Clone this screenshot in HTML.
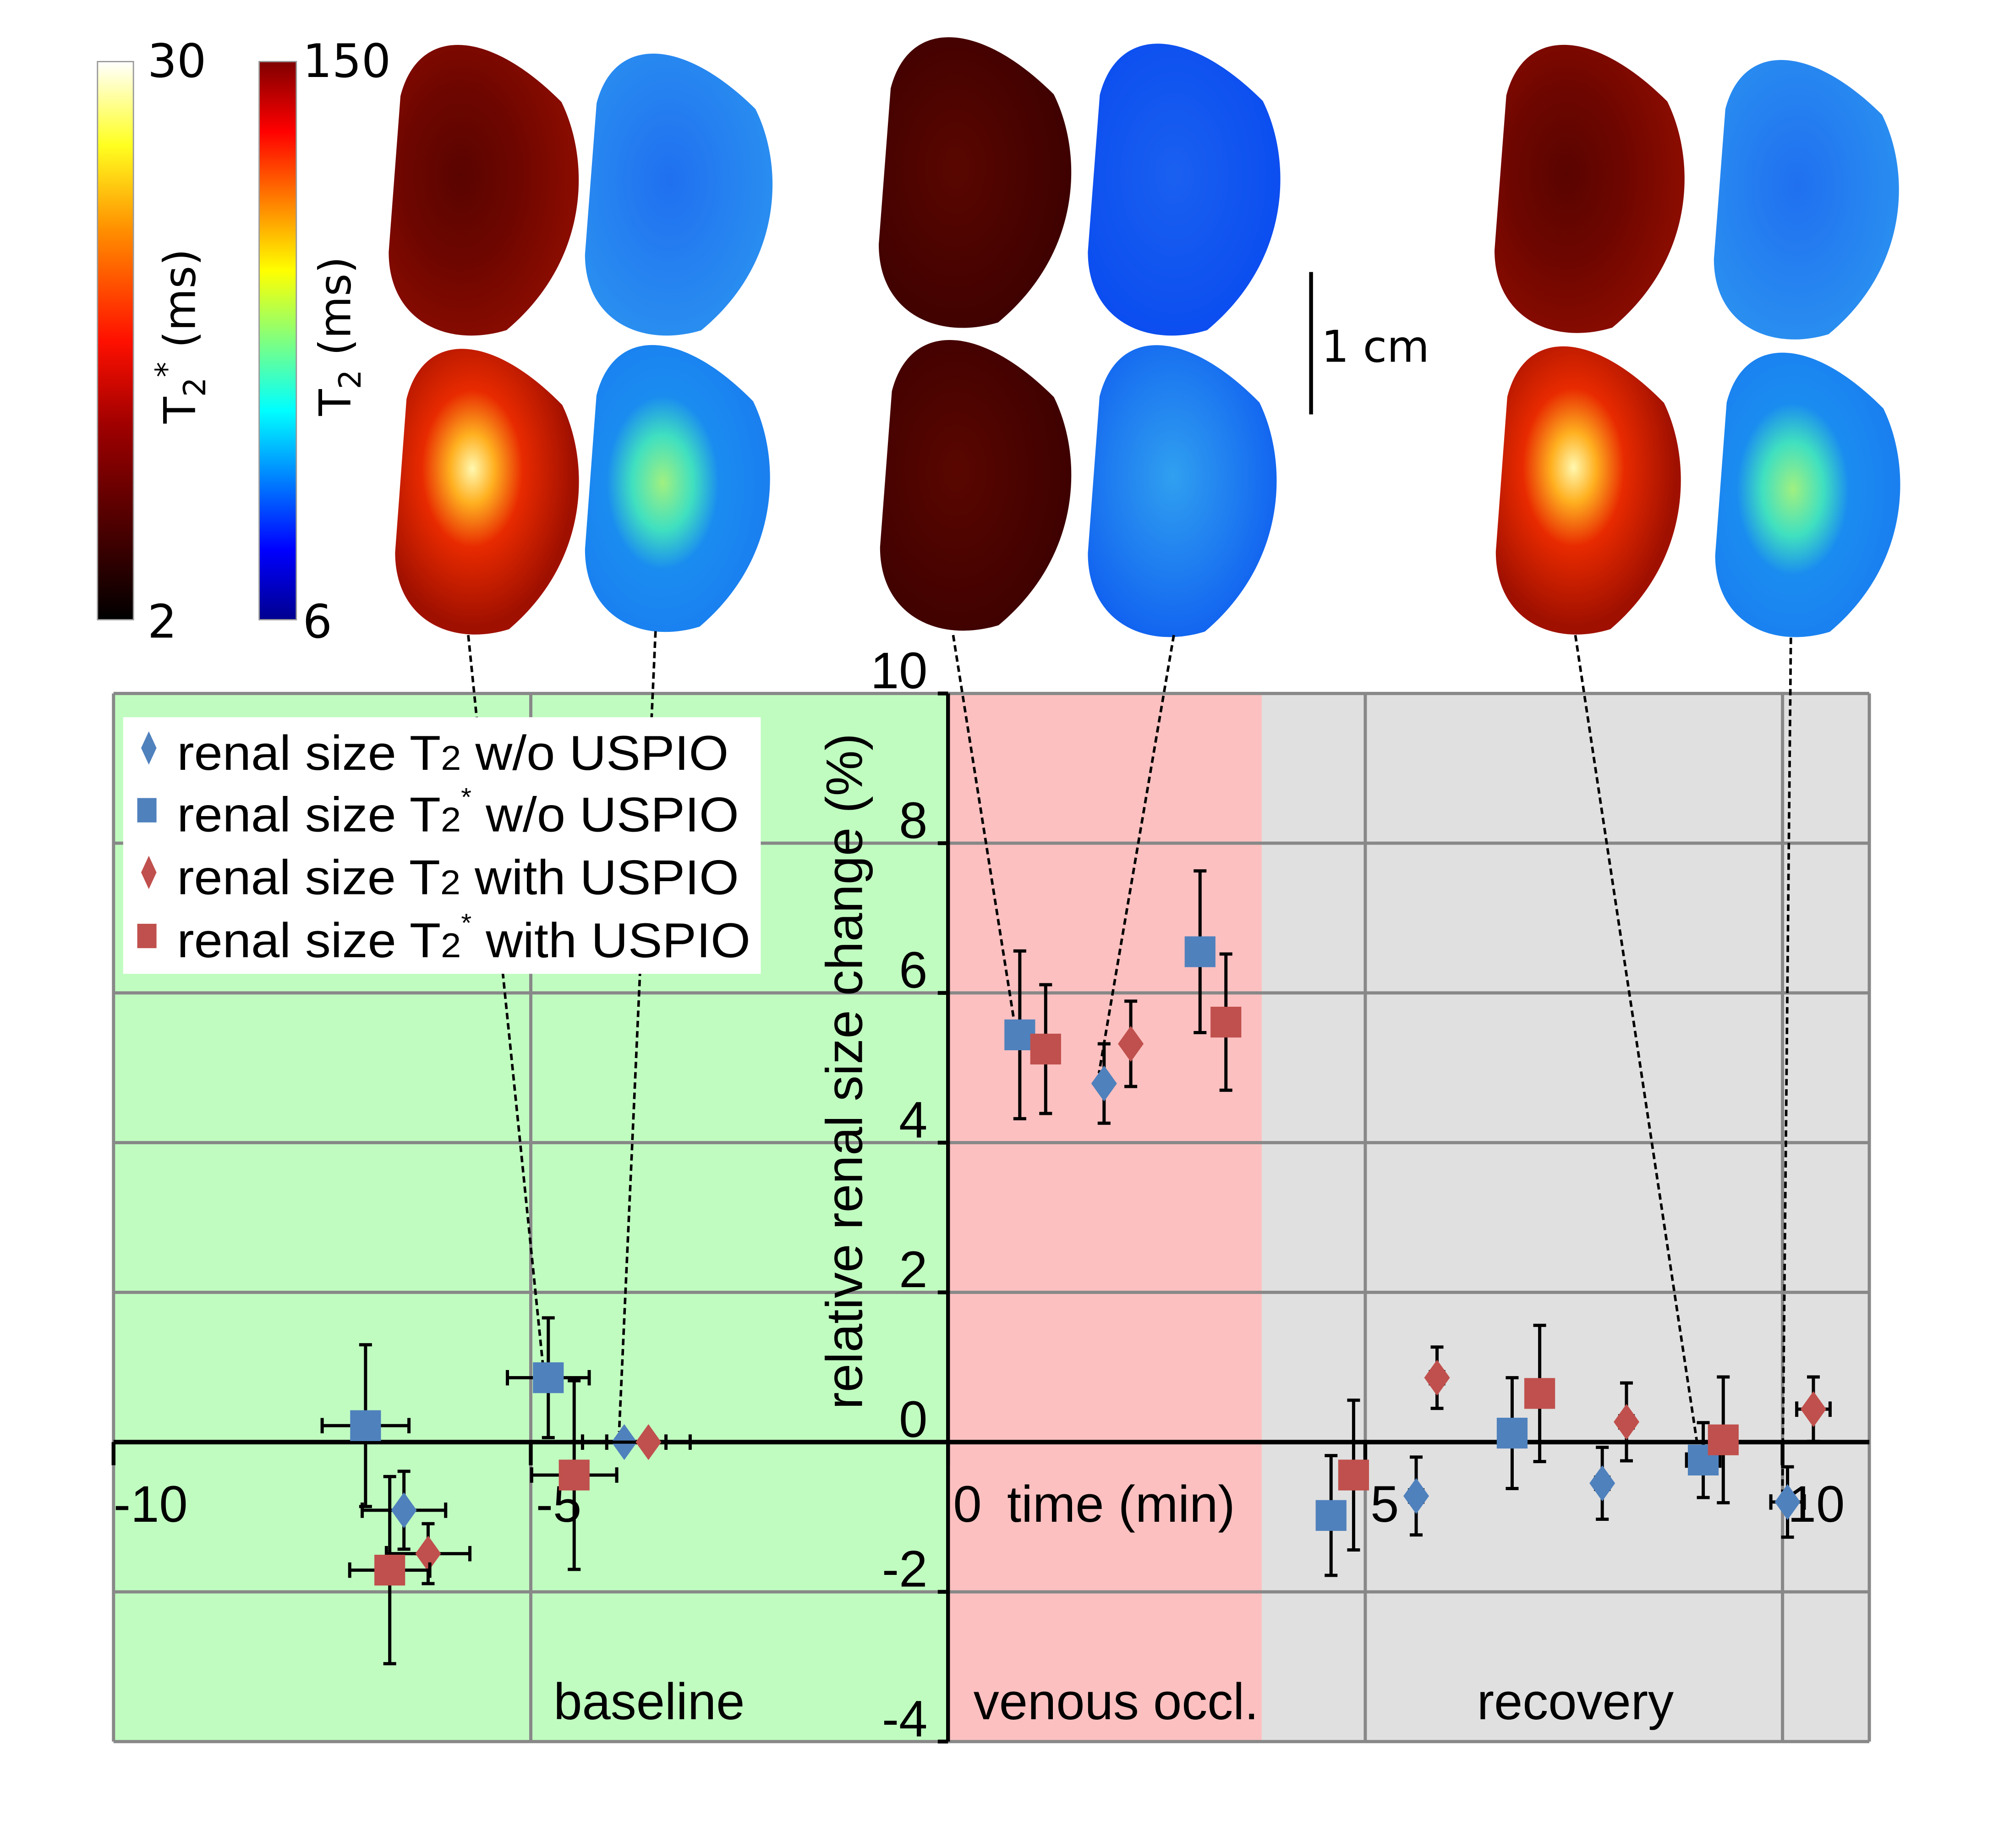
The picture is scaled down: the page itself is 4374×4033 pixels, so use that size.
<!DOCTYPE html>
<html><head><meta charset="utf-8"><style>
html,body{margin:0;padding:0;background:#fff;}
svg{display:block;}
text{font-family:"Liberation Sans",Arial,sans-serif;}
.dj{font-family:"DejaVu Sans","Liberation Sans",sans-serif;}
</style></head><body>
<svg id="fig" xmlns="http://www.w3.org/2000/svg" width="4374" height="4033" viewBox="0 0 1562.14 1440.36" preserveAspectRatio="none">
<defs>
<linearGradient id="hot" x1="0" y1="1" x2="0" y2="0">
<stop offset="0" stop-color="#000"/><stop offset="0.35" stop-color="#a00000"/><stop offset="0.5" stop-color="#ff1000"/><stop offset="0.7" stop-color="#ff9000"/><stop offset="0.85" stop-color="#ffff20"/><stop offset="1" stop-color="#ffffff"/></linearGradient>
<linearGradient id="jet" x1="0" y1="1" x2="0" y2="0">
<stop offset="0" stop-color="#00008f"/><stop offset="0.125" stop-color="#0000ff"/><stop offset="0.375" stop-color="#00ffff"/><stop offset="0.625" stop-color="#ffff00"/><stop offset="0.875" stop-color="#ff0000"/><stop offset="1" stop-color="#800000"/></linearGradient>
<radialGradient id="rDark" cx="0.38" cy="0.45" r="0.6"><stop offset="0" stop-color="#5a0400"/><stop offset="0.5" stop-color="#6e0600"/><stop offset="1" stop-color="#8a0c00"/></radialGradient>
<radialGradient id="rVen" cx="0.4" cy="0.45" r="0.6"><stop offset="0" stop-color="#5a0600"/><stop offset="1" stop-color="#3e0100"/></radialGradient>
<radialGradient id="rBright" cx="0.42" cy="0.42" r="0.55"><stop offset="0" stop-color="#fff8b0"/><stop offset="0.22" stop-color="#ffb020"/><stop offset="0.5" stop-color="#e82a00"/><stop offset="1" stop-color="#a01000"/></radialGradient>
<radialGradient id="bTop" cx="0.45" cy="0.45" r="0.6"><stop offset="0" stop-color="#2070f0"/><stop offset="1" stop-color="#2a90f0"/></radialGradient>
<radialGradient id="bVen" cx="0.45" cy="0.45" r="0.6"><stop offset="0" stop-color="#1a60f0"/><stop offset="1" stop-color="#0a4cf0"/></radialGradient>
<radialGradient id="bBright" cx="0.42" cy="0.48" r="0.55"><stop offset="0" stop-color="#a0f080"/><stop offset="0.3" stop-color="#40e0c0"/><stop offset="0.55" stop-color="#1a8cf0"/><stop offset="1" stop-color="#1a80f0"/></radialGradient>
<radialGradient id="bVen2" cx="0.45" cy="0.45" r="0.6"><stop offset="0" stop-color="#30a0f0"/><stop offset="1" stop-color="#1060f0"/></radialGradient>
</defs>
<g id="images"></g>
<g id="bars">
<rect x="76" y="48" width="28" height="435" fill="url(#hot)" stroke="#999" stroke-width="1"/>
<rect x="202" y="48" width="29" height="435" fill="url(#jet)" stroke="#999" stroke-width="1"/>
<text class="dj" x="115" y="60" font-size="36">30</text>
<text class="dj" x="115" y="497" font-size="36">2</text>
<text class="dj" x="236" y="60" font-size="36">150</text>
<text class="dj" x="236" y="497" font-size="36">6</text>
<text class="dj" transform="translate(152,262) rotate(-90)" text-anchor="middle" font-size="34">T<tspan font-size="24" dy="8">2</tspan><tspan font-size="24" dy="-22">*</tspan><tspan dy="14"> (ms)</tspan></text>
<text class="dj" transform="translate(273,262) rotate(-90)" text-anchor="middle" font-size="34">T<tspan font-size="24" dy="8">2</tspan><tspan dy="-8"> (ms)</tspan></text>
<line x1="1022" y1="212" x2="1022" y2="323" stroke="#000" stroke-width="3"/>
<text class="dj" x="1030" y="282" font-size="34">1 cm</text>
</g>
<g id="plot"></g>
</svg>
<script>
// data
const seriesNames = ["renal size T2 w/o USPIO","renal size T2* w/o USPIO","renal size T2 with USPIO","renal size T2* with USPIO"];
const t2WoX   = [-6.52,-3.88,1.87,5.61,7.84,10.06];
const t2WoY   = [-0.91,0.0,4.79,-0.72,-0.55,-0.80];
const t2WoYE  = [0.52,0.0,0.53,0.52,0.48,0.47];
const t2WoXE  = [0.50,0.50,0.0,0.08,0.08,0.20];
const t2sWoX  = [-6.98,-4.79,0.86,3.02,4.59,6.76,9.05];
const t2sWoY  = [0.22,0.86,5.44,6.55,-0.98,0.12,-0.24];
const t2sWoYE = [1.08,0.80,1.12,1.08,0.80,0.74,0.50];
const t2sWoXE = [0.52,0.49,0.0,0.0,0.0,0.0,0.20];
const t2WX    = [-6.23,-3.59,2.19,5.86,8.13,10.37];
const t2WY    = [-1.49,0.0,5.32,0.86,0.27,0.44];
const t2WYE   = [0.40,0.0,0.57,0.41,0.52,0.43];
const t2WXE   = [0.50,0.50,0.0,0.08,0.08,0.20];
const t2sWX   = [-6.69,-4.48,1.17,3.33,4.86,7.09,9.29];
const t2sWY   = [-1.71,-0.44,5.25,5.61,-0.44,0.65,0.03];
const t2sWYE  = [1.25,1.26,0.86,0.91,1.00,0.91,0.84];
const t2sWXE  = [0.48,0.51,0.0,0.0,0.0,0.0,0.15];
const yTicks = [-4,-2,0,2,4,6,8,10];
const xTickVals = [-10,-5,0,5,10];
const xTickLabels = ["-10","-5","0","5","10"];
const regionBounds = [-10,0,3.76,11.04];
const regionLabels = ["baseline","venous occl.","recovery"];

const NS="http://www.w3.org/2000/svg";
const X0=739, XS=65.05, Y0=1124, YS=58.35;
function sx(v){return X0+v*XS;}
function sy(v){return Y0-v*YS;}
function mk(tag,attrs,parent){const e=document.createElementNS(NS,tag);for(const k in attrs)e.setAttribute(k,attrs[k]);parent.appendChild(e);return e;}
const plot=document.getElementById('plot');
const imgs=document.getElementById('images');

// kidneys
const kidneys=[
 [303,28,456,262,'url(#rDark)'],[456,35,607,262,'url(#bTop)'],
 [685,22,840,256,'url(#rVen)'],[848,27,1003,262,'url(#bVen)'],
 [1165,28,1318,260,'url(#rDark)'],[1336,40,1485,265,'url(#bTop)'],
 [308,265,456,495,'url(#rBright)'],[456,262,605,493,'url(#bBright)'],
 [686,258,840,492,'url(#rVen)'],[848,262,1000,497,'url(#bVen2)'],
 [1166,263,1315,495,'url(#rBright)'],[1337,268,1486,497,'url(#bBright)']];
kidneys.forEach(k=>{
 const [a,b,c,d,f]=k,w=c-a,h=d-b;
 const p=`M${a+0.06*w},${b+0.2*h} C${a+0.15*w},${b-0.03*h} ${a+0.5*w},${b-0.03*h} ${c-0.12*w},${b+0.22*h} C${c+0.03*w},${b+0.42*h} ${c+0.02*w},${b+0.75*h} ${a+0.6*w},${d-0.02*h} C${a+0.3*w},${d+0.04*h} ${a},${d-0.05*h} ${a},${b+0.72*h} Z`;
 const e=mk('path',{d:p,fill:f},imgs);
 
 
});

// backgrounds
const regColors=["#c0fcc0","#fcc0c0","#e0e0e0"];
for(let i=0;i<3;i++){
 const r=mk('rect',{x:sx(regionBounds[i]),y:sy(10),width:sx(regionBounds[i+1])-sx(regionBounds[i]),height:sy(-4)-sy(10),fill:regColors[i]},plot);
 
 
}
// grid
yTicks.forEach(v=>{
 const l=mk('line',{x1:sx(-10),x2:sx(11.04),y1:sy(v),y2:sy(v),stroke:'#888',"stroke-width":2.5},plot);
 
 
});
[-10,-5,5,10,11.04].forEach(v=>{
 const l=mk('line',{x1:sx(v),x2:sx(v),y1:sy(10),y2:sy(-4),stroke:'#888',"stroke-width":2.5},plot);
 
 
});
// axes
let ax=mk('line',{x1:sx(-10),x2:sx(11.04),y1:sy(0),y2:sy(0),stroke:'#000',"stroke-width":3.5},plot);


ax=mk('line',{x1:sx(0),x2:sx(0),y1:sy(10),y2:sy(-4),stroke:'#000',"stroke-width":3},plot);


yTicks.forEach(v=>{
 mk('line',{x1:sx(0)-8,x2:sx(0),y1:sy(v),y2:sy(v),stroke:'#000',"stroke-width":3},plot);
 const t=mk('text',{x:sx(0)-16,y:sy(v)-4,"text-anchor":"end","font-size":40},plot);
 t.textContent=String(v);
 
 
});
xTickVals.forEach((v,i)=>{
 mk('line',{x1:sx(v),x2:sx(v),y1:sy(0),y2:sy(0)+18,stroke:'#000',"stroke-width":3},plot);
 const t=mk('text',{x:sx(v)+(i==0?0:4),y:sy(0)+62,"font-size":40},plot);
 t.textContent=xTickLabels[i];
 
 
});
let tt=mk('text',{x:785,y:1186,"font-size":40},plot);
tt.textContent="time (min)";


tt=mk('text',{transform:"translate(672,835) rotate(-90)","text-anchor":"middle","font-size":40},plot);
tt.textContent="relative renal size change (%)";


[506,870,1228].forEach((x,i)=>{
 const t=mk('text',{x:x,y:1340,"text-anchor":"middle","font-size":40},plot);
 t.textContent=regionLabels[i];
 
 
});

// connector lines (image -> point)
const conns=[[365,495,t2sWoX[1],t2sWoY[1]],[511,492,t2WoX[1],t2WoY[1]],[743,495,t2sWoX[2],t2sWoY[2]],[915,495,t2WoX[2],t2WoY[2]],[1228,495,t2sWoX[6],t2sWoY[6]],[1396,497,t2WoX[5],t2WoY[5]]];
conns.forEach(c=>{
 const l=mk('line',{x1:c[0],y1:c[1],x2:sx(c[2])-4,y2:sy(c[3])-8,stroke:'#000',"stroke-width":2,"stroke-dasharray":"5,3"},plot);
 
 
});

// series
const series=[
 {x:t2WoX,y:t2WoY,ye:t2WoYE,xe:t2WoXE,c:'#4f81bd',m:'d'},
 {x:t2sWoX,y:t2sWoY,ye:t2sWoYE,xe:t2sWoXE,c:'#4f81bd',m:'s'},
 {x:t2WX,y:t2WY,ye:t2WYE,xe:t2WXE,c:'#c0504d',m:'d'},
 {x:t2sWX,y:t2sWY,ye:t2sWYE,xe:t2sWXE,c:'#c0504d',m:'s'}];
series.forEach((s,si)=>{
 const g=mk('g',{},plot);
 
 
 s.x.forEach((xv,i)=>{
  const px=sx(xv),py=sy(s.y[i]);
  if(s.ye[i]>0){
   const a=sy(s.y[i]+s.ye[i]),b=sy(s.y[i]-s.ye[i]);
   mk('path',{d:`M${px},${a}V${b}M${px-5},${a}H${px+5}M${px-5},${b}H${px+5}`,stroke:'#000',"stroke-width":2.5,fill:'none'},g);
  }
  if(s.xe[i]>0){
   const a=sx(xv-s.xe[i]),b=sx(xv+s.xe[i]);
   mk('path',{d:`M${a},${py}H${b}M${a},${py-6}V${py+6}M${b},${py-6}V${py+6}`,stroke:'#000',"stroke-width":2.5,fill:'none'},g);
  }
  let m;
  if(s.m=='s') m=mk('rect',{x:px-12,y:py-12,width:24,height:24,fill:s.c},g);
  else m=mk('path',{d:`M${px},${py-14}L${px+10},${py}L${px},${py+14}L${px-10},${py}Z`,fill:s.c},g);
  
  
 });
});

// legend
const lg=mk('g',{},plot);


mk('rect',{x:96,y:559,width:497,height:200,fill:'#fff'},lg);
const ly=[600,648,697,746];
series.forEach((s,i)=>{
 const y=ly[i];
 if(s.m=='s') mk('rect',{x:107,y:y-26,width:15,height:19,fill:s.c},lg);
 else mk('path',{d:`M116,${y-30}L122,${y-17}L116,${y-4}L110,${y-17}Z`,fill:s.c},lg);
 const t=mk('text',{x:138,y:y,"font-size":38,textLength:(i==0?430:(i==3?447:438)),lengthAdjust:"spacingAndGlyphs"},lg);
 
 
 const star=seriesNames[i].includes('*');
 const tail=seriesNames[i].split(star?'T2* ':'T2 ')[1];
 t.innerHTML='renal size T<tspan font-size="27">2</tspan>'+(star?'<tspan font-size="20" dy="-20">*</tspan><tspan dy="20"> '+tail+'</tspan>':' '+tail);
});
</script>
</body></html>
